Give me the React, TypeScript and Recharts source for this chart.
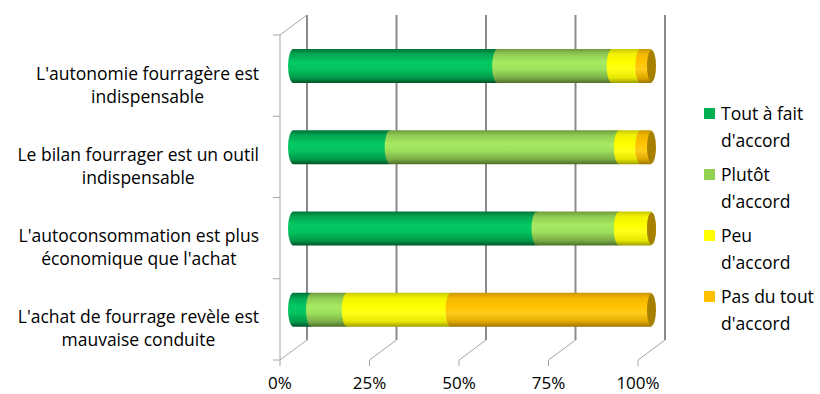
import React from "react";
import { BarChart, Bar, XAxis, YAxis, CartesianGrid, Legend } from "recharts";

// categories (line breaks as in the original)
const categories = [
  "L'autonomie fourragère est\nindispensable",
  "Le bilan fourrager est un outil\nindispensable",
  "L'autoconsommation est plus\néconomique que l'achat",
  "L'achat de fourrage revèle est\nmauvaise conduite",
];

// % of answers
const toutAFait = [57, 27, 68, 5];
const plutot = [32, 64, 23, 10];
const peu = [8, 6, 9, 29];
const pasDuTout = [3, 3, 0, 56];

const xTicks = [0, 25, 50, 75, 100];

const FONT = "'Open Sans', sans-serif";
const FS = 17.5;
const DX = 27; // 3d depth offset of the back wall
const DY = 20;
const BAND = 81.25;

const series = [
  {
    key: "toutAFait",
    name: "Tout à fait d'accord",
    color: "#00B050",
    cap: "#007A3A",
    stops: ["#007236", "#00A651", "#05CA63", "#04C25E", "#009A4A", "#005428"],
  },
  {
    key: "plutot",
    name: "Plutôt d'accord",
    color: "#92D050",
    cap: "#6F9A3E",
    stops: ["#6E9A3C", "#8FCB52", "#A6EB62", "#9EE05C", "#7AAE47", "#4E6E2A"],
  },
  {
    key: "peu",
    name: "Peu d'accord",
    color: "#FFFF00",
    cap: "#B0B000",
    stops: ["#C8C800", "#F2F200", "#FFFF00", "#FFFF1A", "#E6E600", "#9E9E00"],
  },
  {
    key: "pasDuTout",
    name: "Pas du tout d'accord",
    color: "#FFC000",
    cap: "#A88000",
    stops: ["#C99700", "#F2B700", "#FFC400", "#FFCB1A", "#E0A800", "#9A7400"],
  },
];

const data = categories.map((label, i) => ({
  label,
  toutAFait: toutAFait[i],
  plutot: plutot[i],
  peu: peu[i],
  pasDuTout: pasDuTout[i],
}));

const offsets = [0, 0.15, 0.4, 0.6, 0.85, 1];

let ctx: CanvasRenderingContext2D | null = null;
const measure = (s: string) => {
  if (!ctx) ctx = document.createElement("canvas").getContext("2d");
  if (!ctx) return s.length * 9;
  ctx.font = `${FS}px ${FONT}`;
  return ctx.measureText(s).width;
};

// cylinder segment, drawn half way into the depth
const cylinder = (s: any) => (props: any) => {
  const { x, y, width, height, index } = props;
  const x0 = x + DX / 2;
  const x1 = x0 + Math.max(width, 0);
  const yt = y - DY / 2;
  const yb = yt + height;
  const rx = 5.5;
  const ry = height / 2;
  const id = `g-${s.key}-${index}`;
  return (
    <g>
      <defs>
        <linearGradient id={id} x1="0" y1="0" x2="0" y2="1">
          {s.stops.map((c: string, k: number) => (
            <stop key={k} offset={offsets[k]} stopColor={c} />
          ))}
        </linearGradient>
      </defs>
      {width > 0 && (
        <path
          d={`M${x0},${yt} L${x1},${yt} L${x1},${yb} L${x0},${yb} A${rx},${ry} 0 0 1 ${x0},${yt} Z`}
          fill={`url(#${id})`}
        />
      )}
      <ellipse cx={x1} cy={yt + ry} rx={rx - 1} ry={ry - 1} fill={s.cap} />
    </g>
  );
};

const gridLine = (p: any) => {
  const { x1, y1, y2, index } = p;
  return (
    <g key={p.key}>
      <line x1={x1 + DX} y1={y1 - DY} x2={x1 + DX} y2={y2 - DY} stroke="#8A8A8A" strokeWidth={2} />
      <line x1={x1} y1={y2} x2={x1 + DX} y2={y2 - DY} stroke="#A6A6A6" />
      {index === 0 && <line x1={x1} y1={y1} x2={x1 + DX} y2={y1 - DY} stroke="#A6A6A6" />}
    </g>
  );
};

const YTick = (props: any) => {
  const { y, payload, index } = props;
  const lines: string[] = String(payload.value).split("\n");
  const w = Math.max(...lines.map(measure));
  const cx = 259 - w / 2;
  return (
    <g>
      <text textAnchor="middle" fontFamily={FONT} fontSize={FS} fill="#000">
        {lines.map((l, k) => (
          <tspan key={k} x={cx} y={y + 4 + k * 23}>
            {l}
          </tspan>
        ))}
      </text>
      <line x1={273} x2={280} y1={y - BAND / 2} y2={y - BAND / 2} stroke="#A6A6A6" />
      {index === categories.length - 1 && (
        <line x1={273} x2={280} y1={y + BAND / 2} y2={y + BAND / 2} stroke="#A6A6A6" />
      )}
    </g>
  );
};

const XTick = (props: any) => {
  const { x, payload } = props;
  return (
    <text x={x} y={388.5} textAnchor="middle" fontFamily={FONT} fontSize={17} fill="#000">
      {payload.value}%
    </text>
  );
};

const renderLegend = () => (
  <div style={{ fontFamily: FONT, fontSize: FS, color: "#000" }}>
    {series.map((s) => {
      const i = s.name.lastIndexOf(" ");
      return (
        <div key={s.key} style={{ display: "flex", alignItems: "flex-start", marginBottom: 7 }}>
          <div style={{ width: 11, height: 11, background: s.color, marginTop: 8, marginRight: 6, flex: "none" }} />
          <div style={{ lineHeight: "27px", whiteSpace: "nowrap" }}>
            {s.name.slice(0, i)}
            <br />
            {s.name.slice(i + 1)}
          </div>
        </div>
      );
    })}
  </div>
);

export default function App() {
  return (
    <div style={{ position: "absolute", left: 0, top: 0, width: 820, height: 394, background: "#fff" }}>
      <BarChart
        width={820}
        height={394}
        data={data}
        layout="vertical"
        barSize={34}
        margin={{ top: 35, right: 182, bottom: 4, left: 10 }}
      >
        <CartesianGrid horizontal={false} vertical={gridLine} />
        <XAxis
          type="number"
          domain={[0, 100]}
          ticks={xTicks}
          axisLine={false}
          tickLine={{ stroke: "#A6A6A6" }}
          tickSize={6}
          height={30}
          tick={<XTick />}
          interval={0}
        />
        <YAxis
          type="category"
          dataKey="label"
          width={270}
          axisLine={{ stroke: "#A6A6A6" }}
          tickLine={false}
          tick={<YTick />}
          interval={0}
        />
        <Legend
          layout="horizontal"
          verticalAlign="middle"
          align="center"
          content={renderLegend}
          wrapperStyle={{ left: 704, top: 100, width: 116 }}
        />
        {series.map((s) => (
          <Bar
            key={s.key}
            dataKey={s.key}
            name={s.name}
            stackId="a"
            fill={s.color}
            shape={cylinder(s)}
            isAnimationActive={false}
          />
        ))}
      </BarChart>
    </div>
  );
}
